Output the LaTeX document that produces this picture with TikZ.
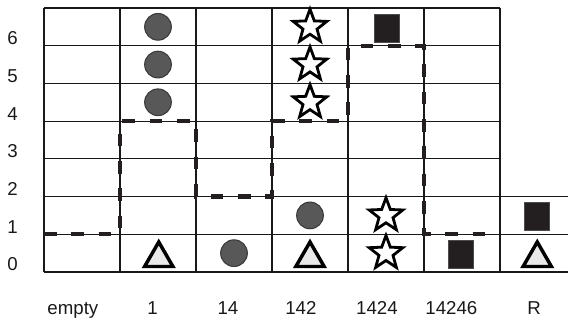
\documentclass[tikz,border=0pt]{standalone}
\usepackage{fontspec}
\setmainfont{Liberation Sans}
\usepackage{xcolor}
\usepackage{tikz}
\usetikzlibrary{shapes.geometric}

\definecolor{balldark}{HTML}{585858}
\definecolor{ballrim}{HTML}{3A3A3A}
\definecolor{trifill}{HTML}{E9E9E9}
\definecolor{boxblack}{HTML}{231F20}

\tikzset{
  gridline/.style={line width=0.9pt, black!90},
  stepline/.style={line width=3.2pt, draw=boxblack, dash pattern=on 9.5pt off 11pt},
  ball/.style={circle, fill=balldark, draw=ballrim, line width=0.8pt, minimum size=20pt, inner sep=0pt},
  starmark/.style={star, star points=5, star point ratio=2.4, draw=black, fill=white, line width=2.1pt, minimum size=26.5pt, inner sep=0pt},
  boxmark/.style={rectangle, fill=boxblack, draw=black!70, line width=0.4pt, minimum width=19pt, minimum height=21pt, inner sep=0pt},
  trimark/.style={regular polygon, regular polygon sides=3, draw=black, fill=trifill, line width=2.6pt, minimum size=24.5pt, inner sep=0pt},
  lab/.style={font=\fontsize{14}{16}\selectfont, text=black!90, anchor=base}
}

\begin{document}
\begin{tikzpicture}[x=57pt, y=28.286pt]
    \useasboundingbox (-0.5789,-1.2727) rectangle (6.8947,7.2121);

    % Grid
    \foreach \h in {0,...,7}
        \draw[gridline] (0,\h) -- (6,\h);
    \foreach \c in {0,...,6}
        \draw[gridline] (\c,0) -- (\c,7);
    \foreach \h in {0,1,2}
        \draw[gridline] (6,\h) -- (6.8947,\h);

    % Row numbers
    \foreach \h in {0,...,6}
        \node[lab] (row\h) at (-0.414,\h+0.03) {\h};

    % Column names
    \foreach \name/\x [count=\i] in {empty/0.38, 1/1.43, 14/2.42, 142/3.38, 1424/4.38, 14246/5.36, R/6.45}
        \node[lab] (col\i) at (\x,-1.14) {\name};

    % Step line
    \draw[stepline] (0,1) -- (1,1) -- (1,4) -- (2,4) -- (2,2) -- (3,2) -- (3,4)
        -- (4,4) -- (4,6) -- (5,6) -- (5,1) -- (6,1);

    % Circles
    \node[ball] (ballA) at (1.5,4.5) {};
    \node[ball] (ballB) at (1.5,5.5) {};
    \node[ball] (ballC) at (1.5,6.5) {};
    \node[ball] (ballD) at (2.5,0.5) {};
    \node[ball] (ballE) at (3.5,1.5) {};

    % Stars
    \node[starmark] (starA) at (3.5,4.5) {};
    \node[starmark] (starB) at (3.5,5.5) {};
    \node[starmark] (starC) at (3.5,6.5) {};
    \node[starmark] (starD) at (4.5,0.5) {};
    \node[starmark] (starE) at (4.5,1.5) {};

    % Squares
    \node[boxmark] (boxA) at (4.51,6.45) {};
    \node[boxmark] (boxB) at (5.48,0.48) {};
    \node[boxmark] (boxC) at (6.48,1.48) {};

    % Triangles
    \node[trimark, anchor=south] (triA) at (1.51,0.1) {};
    \node[trimark, anchor=south] (triB) at (3.5,0.1) {};
    \node[trimark, anchor=south] (triC) at (6.49,0.1) {};
\end{tikzpicture}
\end{document}
